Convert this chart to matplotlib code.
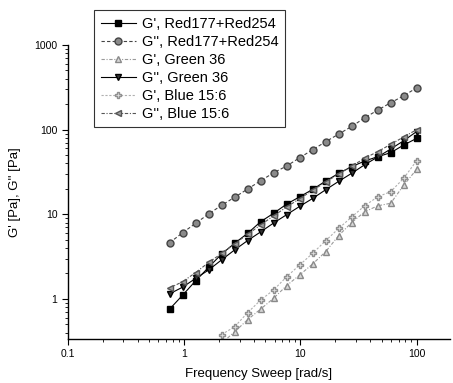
import matplotlib.pyplot as plt
import numpy as np

plt.rcParams['font.family'] = ['Liberation Sans', 'DejaVu Sans']

# angular frequency [rad/s]
freq = [0.750, 0.970, 1.255, 1.624, 2.101, 2.718, 3.517, 4.550, 5.887, 7.615,
        9.85, 12.74, 16.49, 21.33, 27.60, 35.71, 46.19, 59.76, 77.32, 100.0]

g1_red = [0.76, 1.11, 1.64, 2.37, 3.4, 4.55, 5.97, 8.18, 10.3, 13.2,
          16.1, 19.7, 24.7, 30.5, 36.5, 42.6, 47.9, 53.4, 65.8, 78.9]
g2_red = [4.62, 6.06, 7.83, 10.1, 12.8, 15.9, 19.9, 24.9, 31.0, 37.2,
          46.6, 57.9, 72.0, 88.7, 109, 138, 170, 208, 251, 312]
g2_green = [1.15, 1.38, 1.75, 2.2, 2.9, 3.8, 4.9, 6.2, 7.9, 9.9,
            12.4, 15.4, 19.5, 24.5, 30.5, 38.5, 47.5, 59, 74, 95]
g2_blue = [1.35, 1.6, 2.05, 2.7, 3.45, 4.5, 5.8, 7.5, 9.6, 12.2,
           15.3, 19.2, 24, 30, 37, 46, 55, 67, 82, 100]
# light series only enter the plotted range from the 5th frequency on
g1_green = [0.30, 0.41, 0.57, 0.76, 1.02, 1.44, 1.92, 2.59, 3.62, 5.6,
            8.0, 10.7, 12.6, 13.5, 22, 34]
g1_blue = [0.38, 0.47, 0.69, 0.97, 1.28, 1.83, 2.52, 3.46, 4.88, 6.8,
           9.3, 12.6, 16.1, 18.5, 26.6, 43]

labels = ["G', Red177+Red254", "G'', Red177+Red254", "G', Green 36",
          "G'', Green 36", "G', Blue 15:6", "G'', Blue 15:6"]

fig = plt.figure(figsize=(4.53, 3.83), dpi=100)
ax = fig.add_axes([0.150, 0.115, 0.843, 0.7675])

ms = 5
ax.plot(freq, g1_red, '-', color='black', lw=0.8, marker='s', ms=ms,
        mfc='black', mec='black', label=labels[0])
ax.plot(freq, g2_red, linestyle=(0, (3, 2)), color='#444444', lw=0.8, marker='o', ms=ms,
        mfc='#8a8a8a', mec='#444444', label=labels[1])
ax.plot(freq[4:], g1_green, linestyle=(0, (3, 1.5, 1, 1.5)), color='#9a9a9a', lw=0.8,
        marker='^', ms=ms, mfc='#d8d8d8', mec='#8a8a8a', label=labels[2])
ax.plot(freq, g2_green, '-', color='black', lw=0.8, marker='v', ms=ms,
        mfc='#333333', mec='black', label=labels[3])
ax.plot(freq[4:], g1_blue, linestyle=(0, (2, 1.5)), color='#b0b0b0', lw=0.8,
        marker='P', ms=ms, mfc='#e0e0e0', mec='#909090', label=labels[4])
ax.plot(freq, g2_blue, linestyle=(0, (3, 1.5, 1, 1.5)), color='#555555', lw=0.8,
        marker='<', ms=ms, mfc='#a0a0a0', mec='#555555', label=labels[5])

ax.set_xscale('log')
ax.set_yscale('log')
ax.set_xlim(0.1, 193)
ax.set_ylim(0.337, 1000)
ax.set_xticks([0.1, 1, 10, 100])
ax.set_xticklabels(['0.1', '1', '10', '100'])
ax.set_yticks([1, 10, 100, 1000])
ax.set_yticklabels(['1', '10', '100', '1000'])

for side in ['top', 'right']:
    ax.spines[side].set_visible(False)
for side in ['left', 'bottom']:
    ax.spines[side].set_linewidth(1.0)
ax.tick_params(which='major', direction='out', length=4, width=0.8, labelsize=7.5)
ax.tick_params(which='minor', direction='out', length=2, width=0.6)

ax.set_xlabel('Frequency Sweep [rad/s]', fontsize=9.5, labelpad=6)
ax.set_ylabel("G' [Pa], G'' [Pa]", fontsize=9.5, labelpad=10)

leg = ax.legend(loc='upper left', bbox_to_anchor=(0.192, 0.992),
                bbox_transform=fig.transFigure, fontsize=10.5, frameon=True,
                fancybox=False, edgecolor='black', handlelength=2.4,
                handletextpad=0.4, labelspacing=0.27, borderpad=0.45)
leg.get_frame().set_linewidth(0.8)

fig.savefig('out.png', dpi=100)
